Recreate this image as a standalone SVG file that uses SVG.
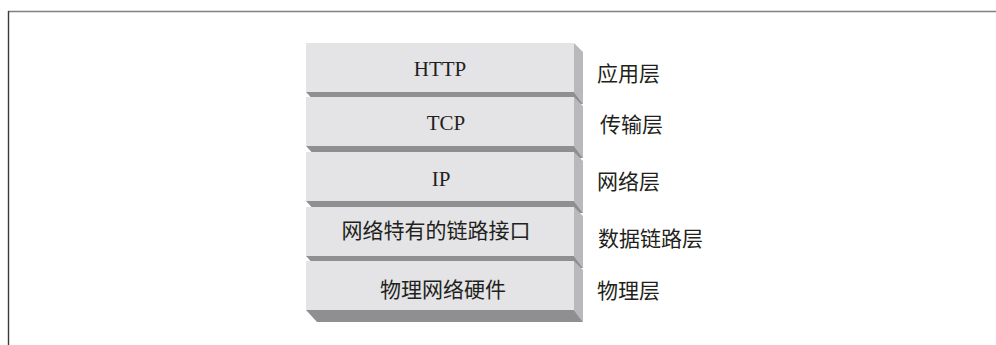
<svg xmlns="http://www.w3.org/2000/svg" width="996" height="345" viewBox="0 0 996 345">
<style>
.front{fill:#e4e4e6}
.side{fill:#b9b9bb}
.bottom{fill:#8f8f91}
.en{font-family:"Liberation Serif","Times New Roman",serif;font-size:21px;fill:#231f20;text-anchor:middle}
.zh{font-family:"Noto Sans CJK SC","Noto Sans",sans-serif;font-size:21px;fill:#231f20}
.zhc{text-anchor:middle}
</style>
<rect width="996" height="345" fill="#ffffff"/>
<g id="frame">
<line x1="8" y1="11.5" x2="996" y2="11.5" stroke="#808080" stroke-width="1.6"/>
<line x1="8.5" y1="11" x2="8.5" y2="345" stroke="#3a3a3a" stroke-width="1.4"/>
</g>
<g id="layer-http">
<polygon class="side" points="574,43 583,52 583,104 574,92"/>
<polygon class="bottom" points="306,92 574,92 583,104 317,104"/>
<rect class="front" x="306" y="43" width="268" height="49"/>
<text class="en" x="440" y="76">HTTP</text>
</g>
<g id="layer-tcp">
<polygon class="side" points="574,97 583,106 583,158 574,146"/>
<polygon class="bottom" points="306,146 574,146 583,158 317,158"/>
<rect class="front" x="306" y="97" width="268" height="49"/>
<text class="en" x="446" y="130">TCP</text>
</g>
<g id="layer-ip">
<polygon class="side" points="574,152 583,161 583,213 574,201"/>
<polygon class="bottom" points="306,201 574,201 583,213 317,213"/>
<rect class="front" x="306" y="152" width="268" height="49"/>
<text class="en" x="441" y="186">IP</text>
</g>
<g id="layer-link">
<polygon class="side" points="574,207 583,216 583,268 574,256"/>
<polygon class="bottom" points="306,256 574,256 583,268 317,268"/>
<rect class="front" x="306" y="207" width="268" height="49"/>
<text class="zh zhc" x="436" y="237.5">网络特有的链路接口</text>
</g>
<g id="layer-phys">
<polygon class="side" points="574,261 583,270 583,322 574,310"/>
<polygon class="bottom" points="306,310 574,310 583,322 317,322"/>
<rect class="front" x="306" y="261" width="268" height="49"/>
<text class="zh zhc" x="443" y="297">物理网络硬件</text>
</g>
<g id="labels">
<text class="zh" x="597" y="81">应用层</text>
<text class="zh" x="600" y="131.5">传输层</text>
<text class="zh" x="597" y="188.5">网络层</text>
<text class="zh" x="598" y="245.5">数据链路层</text>
<text class="zh" x="597" y="297.5">物理层</text>
</g>
<g id="connectors"></g>
</svg>
